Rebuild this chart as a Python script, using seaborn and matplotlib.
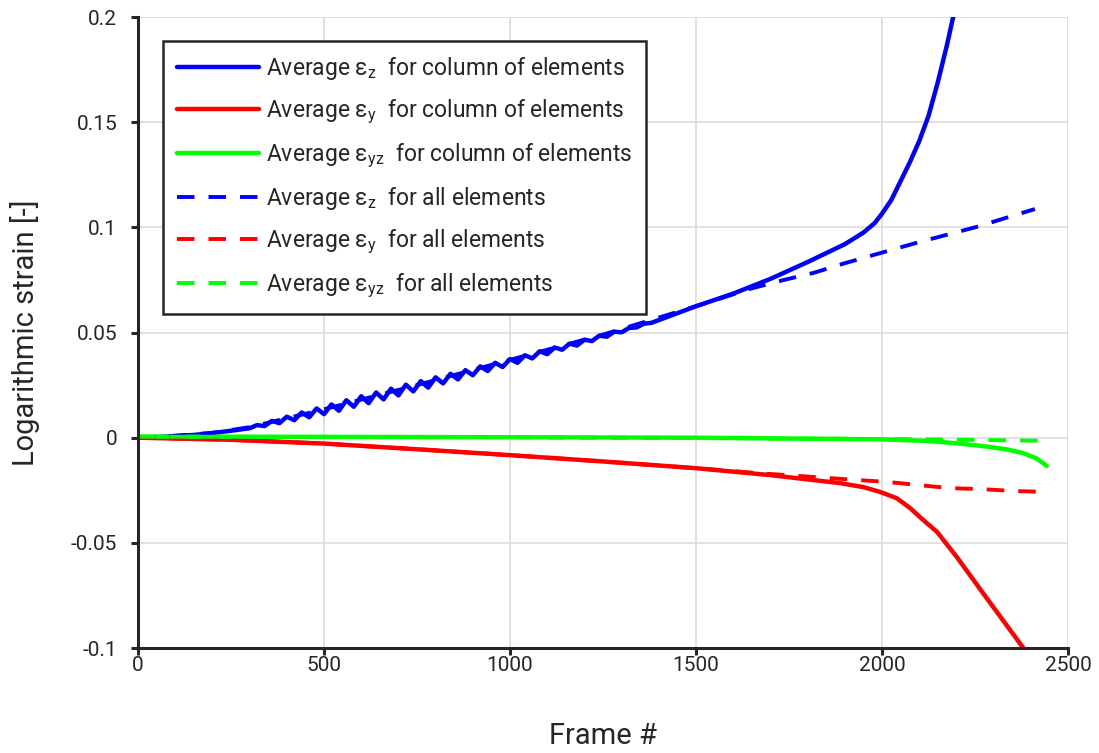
import matplotlib
matplotlib.use("Agg")
import matplotlib.pyplot as plt
import numpy as np
import pandas as pd
import seaborn as sns

# Average eps_z for the column of elements (frame, strain)
col_ez_frame = [0, 50, 100, 150, 200, 250, 300,
                320, 340, 360, 380, 400, 420, 440, 460, 480, 500,
                520, 540, 560, 580, 600, 620, 640, 660, 680, 700,
                720, 740, 760, 780, 800, 820, 840, 860, 880, 900,
                920, 940, 960, 980, 1000, 1020, 1040, 1060, 1080, 1100,
                1120, 1140, 1160, 1180, 1200, 1220, 1240, 1260, 1280, 1300,
                1320, 1340, 1360, 1380, 1400,
                1500, 1600, 1700, 1800, 1900, 1950, 1980, 2000, 2025, 2050, 2075,
                2100, 2125, 2150, 2175, 2200, 2230]
col_ez = [0.0000, 0.0003, 0.0008, 0.0013, 0.0022, 0.0033, 0.0045,
          0.0060, 0.0055, 0.0080, 0.0069, 0.0100, 0.0083, 0.0120, 0.0097, 0.0139, 0.0112,
          0.0158, 0.0128, 0.0178, 0.0147, 0.0197, 0.0164, 0.0215, 0.0182, 0.0233, 0.0201,
          0.0252, 0.0220, 0.0269, 0.0238, 0.0287, 0.0258, 0.0304, 0.0277, 0.0321, 0.0297,
          0.0339, 0.0317, 0.0356, 0.0336, 0.0374, 0.0356, 0.0392, 0.0377, 0.0411, 0.0397,
          0.0429, 0.0418, 0.0447, 0.0438, 0.0466, 0.0459, 0.0485, 0.0480, 0.0504, 0.0501,
          0.0522, 0.0524, 0.0542, 0.0546, 0.0559,
          0.0625, 0.0685, 0.0755, 0.0835, 0.0920, 0.0975, 0.1020, 0.1065, 0.1130, 0.1220, 0.1310,
          0.1410, 0.1530, 0.1690, 0.1870, 0.2070, 0.2350]

# Average eps_y for the column of elements
col_ey_frame = [0, 250, 500, 750, 1000, 1250, 1500, 1700, 1887, 1950, 1995, 2040, 2075,
                2110, 2148, 2201, 2272, 2380, 2445]
col_ey = [0.0, -0.0010, -0.0028, -0.0055, -0.0083, -0.0113, -0.0145, -0.0178, -0.0216,
          -0.0235, -0.0258, -0.0288, -0.0334, -0.0390, -0.0448, -0.0567, -0.0740, -0.1000, -0.1150]

# Average eps_yz for the column of elements
col_eyz_frame = [0, 500, 1000, 1500, 1887, 2000, 2100, 2156, 2220, 2290, 2340, 2379, 2415, 2443]
col_eyz = [0.0005, 0.0004, 0.0002, 0.0000, -0.0006, -0.0008, -0.0014, -0.0020, -0.0030,
           -0.0044, -0.0057, -0.0073, -0.0098, -0.0134]

# Averages over all elements
all_ez_frame = [0, 100, 200, 300, 500, 750, 1000, 1250, 1500, 1650, 1734, 1815, 1901, 1976,
                2100, 2250, 2411]
all_ez = [0.0, 0.0009, 0.0023, 0.0050, 0.0135, 0.0250, 0.0370, 0.0490, 0.0625, 0.0710,
          0.0749, 0.0783, 0.0830, 0.0868, 0.0930, 0.1000, 0.1087]

all_ey_frame = [0, 250, 500, 750, 1000, 1250, 1500, 1672, 1932, 2013, 2097, 2183, 2263, 2349, 2440]
all_ey = [0.0, -0.0010, -0.0028, -0.0055, -0.0083, -0.0113, -0.0145, -0.0169, -0.0201,
          -0.0210, -0.0225, -0.0240, -0.0244, -0.0253, -0.0258]

all_eyz_frame = [0, 1000, 2000, 2228, 2440]
all_eyz = [0.0005, 0.0002, -0.0006, -0.0010, -0.0015]

x_ticks = [0, 500, 1000, 1500, 2000, 2500]
y_ticks = [-0.1, -0.05, 0, 0.05, 0.1, 0.15, 0.2]
y_tick_labels = ["-0.1", "-0.05", "0", "0.05", "0.1", "0.15", "0.2"]

sns.set_theme(style="white")
plt.rcParams["font.family"] = ["Roboto", "DejaVu Sans"]
plt.rcParams["mathtext.fontset"] = "custom"
plt.rcParams["mathtext.rm"] = "Roboto"
plt.rcParams["mathtext.it"] = "Roboto"

fig = plt.figure(figsize=(10.99, 7.53), dpi=100)
ax = fig.add_axes([0.1256, 0.1394, 0.8462, 0.838])

series = [
    (col_ez_frame, col_ez, "blue", "-", r"Average ε$_{z}$  for column of elements"),
    (col_ey_frame, col_ey, "red", "-", r"Average ε$_{y}$  for column of elements"),
    (col_eyz_frame, col_eyz, "lime", "-", r"Average ε$_{yz}$  for column of elements"),
    (all_ez_frame, all_ez, "blue", "--", r"Average ε$_{z}$  for all elements"),
    (all_ey_frame, all_ey, "red", "--", r"Average ε$_{y}$  for all elements"),
    (all_eyz_frame, all_eyz, "lime", "--", r"Average ε$_{yz}$  for all elements"),
]

for fx, fy, col, ls, lab in series:
    df = pd.DataFrame({"frame": fx, "strain": fy})
    sns.lineplot(data=df, x="frame", y="strain", ax=ax, color=col, sort=False,
                 estimator=None, linewidth=3.2 if ls == "-" else 2.8, label=lab)
    if ls == "--":
        ax.lines[-1].set_dashes((4.5, 3.6))

ax.set_xlim(0, 2500)
ax.set_ylim(-0.1, 0.2)
ax.set_xticks(x_ticks)
ax.set_xticklabels([str(v) for v in x_ticks])
ax.set_yticks(y_ticks)
ax.set_yticklabels(y_tick_labels)
ax.grid(True, color="#dcdcdc", linewidth=1.2)
ax.set_axisbelow(True)
for side in ["top", "right"]:
    ax.spines[side].set_visible(False)
for side in ["left", "bottom"]:
    ax.spines[side].set_color("#262626")
    ax.spines[side].set_linewidth(2.2)
ax.tick_params(axis="both", which="major", direction="out", length=5, width=2.2,
               color="#262626", labelsize=15, labelcolor="#262626",
               left=True, bottom=True)
ax.tick_params(axis="x", pad=0.5)
ax.tick_params(axis="y", pad=10)
ax.set_xlabel("Frame #", fontsize=21, color="#262626", labelpad=34)
ax.set_ylabel("Logarithmic strain [-]", fontsize=21, color="#262626", labelpad=22)

leg = ax.legend(loc="upper left", bbox_to_anchor=(0.027, 0.962), fontsize=16.5,
                handlelength=3.6, handletextpad=0.3, labelspacing=0.68,
                borderaxespad=0, frameon=True, fancybox=False, edgecolor="#262626",
                borderpad=0.6)
leg.get_frame().set_linewidth(1.8)
leg.get_frame().set_alpha(1)

fig.savefig("out.png", dpi=100)
